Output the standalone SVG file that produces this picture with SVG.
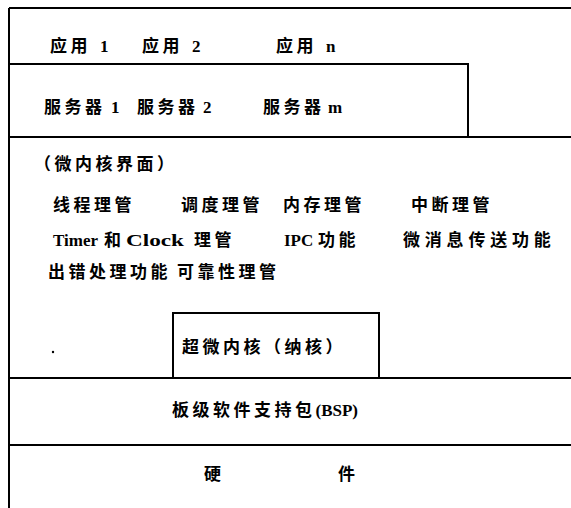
<svg xmlns="http://www.w3.org/2000/svg" width="571" height="508" viewBox="0 0 571 508">
<style>
.ln{stroke:#000;stroke-width:2;fill:none}
.t{font-family:"Liberation Serif","Noto Sans CJK SC",serif;font-size:17px;font-weight:bold;fill:#000;letter-spacing:3.5px}
.l{letter-spacing:0}
</style>
<rect width="571" height="508" fill="#fff"/>
<g id="frame">
<path class="ln" d="M9,8 H571 M9,8 V508"/>
</g>
<g id="apps">
<text class="t" x="50" y="52">应用<tspan class="l" x="100">1</tspan></text>
<text class="t" x="142" y="52">应用<tspan class="l" x="192">2</tspan></text>
<text class="t" x="276" y="52">应用<tspan class="l" x="326">n</tspan></text>
</g>
<g id="servers">
<path class="ln" d="M9,64 H468 V137"/>
<text class="t" x="44" y="113">服务器<tspan class="l" x="111">1</tspan></text>
<text class="t" x="137" y="113">服务器<tspan class="l" x="203">2</tspan></text>
<text class="t" x="263" y="113">服务器<tspan class="l" x="328">m</tspan></text>
</g>
<g id="microkernel">
<path class="ln" d="M9,137 H571"/>
<text class="t" x="34" y="170">（微内核界面）</text>
<text class="t" x="53" y="211">线程理管</text>
<text class="t" x="181" y="211">调度理管</text>
<text class="t" x="283" y="211">内存理管</text>
<text class="t" x="411" y="211">中断理管</text>
<text class="t" x="53" y="246"><tspan class="l">Timer</tspan><tspan x="104">和</tspan><tspan class="l" x="126" textLength="58" lengthAdjust="spacingAndGlyphs">Clock</tspan><tspan x="194">理管</tspan></text>
<text class="t" x="284" y="246"><tspan class="l">IPC</tspan><tspan x="318">功能</tspan></text>
<text class="t" x="403" y="246" style="letter-spacing:4.8px">微消息传送功能</text>
<text class="t" x="48" y="278">出错处理功能<tspan x="177">可靠性理管</tspan></text>
<circle cx="53" cy="352" r="1.2" fill="#000"/>
</g>
<g id="nanokernel">
<path class="ln" d="M173,378 V313 H379 V378"/>
<text class="t" x="182" y="353">超微内核（纳核）</text>
</g>
<g id="bsp">
<path class="ln" d="M9,378 H571"/>
<text class="t" x="172" y="416">板级软件支持包<tspan class="l">(BSP)</tspan></text>
</g>
<g id="hardware">
<path class="ln" d="M9,445 H571"/>
<text class="t" x="204" y="480">硬</text>
<text class="t" x="338" y="480">件</text>
</g>
</svg>
